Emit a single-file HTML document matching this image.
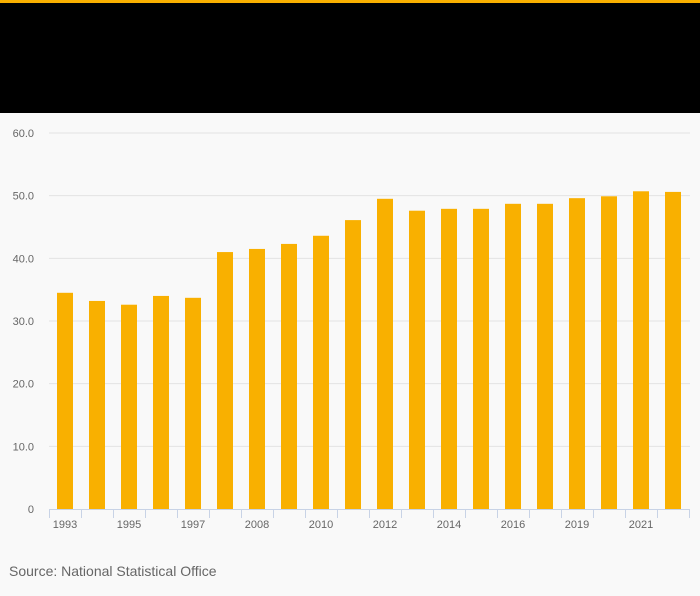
<!DOCTYPE html>
<html><head><meta charset="utf-8">
<style>
html,body{margin:0;padding:0;}
body{width:700px;height:596px;background:#f9f9f9;font-family:"Liberation Sans",sans-serif;overflow:hidden;position:relative;}
#topbar{position:absolute;left:0;top:0;width:700px;height:3px;background:#f9b000;}
#header{position:absolute;left:0;top:3px;width:700px;height:110px;background:#000;}
#source{position:absolute;left:9px;top:563px;font-size:14px;color:#666;}
svg{position:absolute;left:0;top:0;}
</style></head><body>
<div id="topbar"></div>
<div id="header"></div>
<svg id="chart" width="700" height="596"></svg>
<div id="source">Source: National Statistical Office</div>
<script>
const categories = ["1993","1994","1995","1996","1997","2007","2008","2009","2010","2011","2012","2013","2014","2015","2016","2018","2019","2020","2021","2022"];
const values = [34.5,33.2,32.6,34.0,33.7,41.0,41.5,42.3,43.6,46.1,49.5,47.6,47.9,47.9,48.7,48.7,49.6,49.9,50.7,50.6];
const yTicks = [0,10,20,30,40,50,60];
const yTickLabels = ["0","10.0","20.0","30.0","40.0","50.0","60.0"];

const NS = "http://www.w3.org/2000/svg";
const svg = document.getElementById('chart');
const x0 = 49, x1 = 689, yBase = 509, yTop = 133, yMax = 60;
const band = (x1 - x0) / categories.length;
const yScale = v => yBase - (v / yMax) * (yBase - yTop);
const xScale = i => x0 + i * band;
function mk(tag, attrs){const e=document.createElementNS(NS,tag);for(const k in attrs)e.setAttribute(k,attrs[k]);svg.appendChild(e);return e;}

yTicks.forEach((t,i)=>{
  const y = yScale(t);
  if (t>0){
    const g = mk('line',{x1:x0,x2:x1+1,y1:y,y2:y,stroke:'#e3e3e3','stroke-width':1});
    
    
  }
  const tx = mk('text',{x:34,y:y+4,'text-anchor':'end','font-size':11,fill:'#666','font-family':'Liberation Sans, sans-serif'});
  tx.textContent = yTickLabels[i];
  
  
});

values.forEach((v,i)=>{
  const cx = xScale(i) + band/2;
  const r = mk('rect',{x:cx-8,y:yScale(v),width:16,height:yBase-yScale(v),fill:'#f9b000'});
  
  
});

const ax = mk('line',{x1:x0,x2:x1,y1:yBase+0.5,y2:yBase+0.5,stroke:'#c8d3e6','stroke-width':1});


for(let i=0;i<=categories.length;i++){
  const x = xScale(i)+0.5;
  const tk = mk('line',{x1:x,x2:x,y1:yBase,y2:yBase+9,stroke:'#c8d3e6','stroke-width':1});
  
  
}
categories.forEach((c,i)=>{
  if(i%2!==0) return;
  const t = mk('text',{x:xScale(i)+band/2,y:528,'text-anchor':'middle','font-size':11,fill:'#666','font-family':'Liberation Sans, sans-serif'});
  t.textContent = c;
  
  
});
</script>
</body></html>
